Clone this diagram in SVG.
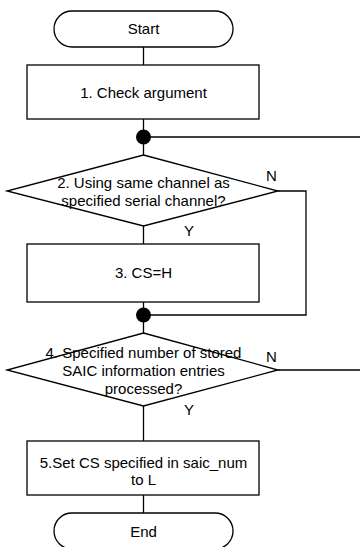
<svg xmlns="http://www.w3.org/2000/svg" width="360" height="547" viewBox="0 0 360 547">
<style>
.s{fill:#fff;stroke:#000;stroke-width:1.3}
.c{fill:none;stroke:#000;stroke-width:1.3}
text{font-family:"Liberation Sans",Arial,sans-serif;font-size:15px;fill:#000;text-anchor:middle}
.l{text-anchor:start}
</style>
<rect width="360" height="547" fill="#fff"/>
<g id="connectors">
<path class="c" d="M143.5 47V65M143.5 119V155M143.5 137H360M143.5 226V244M143.5 302V333M278 191H306V315H143.5M143.5 406V441M278 370H360M143.5 495V513"/>
<circle cx="143.5" cy="137" r="7.5" fill="#000"/>
<circle cx="143.5" cy="315" r="7.5" fill="#000"/>
<text class="l" x="266" y="181">N</text>
<text class="l" x="184" y="236">Y</text>
<text class="l" x="266" y="362">N</text>
<text class="l" x="184" y="415">Y</text>
</g>
<g id="start">
<rect class="s" x="54" y="11" width="179" height="36" rx="18"/>
<text x="143.5" y="34">Start</text>
</g>
<g id="n1">
<rect class="s" x="27" y="65" width="232" height="54"/>
<text x="143.5" y="98">1. Check argument</text>
</g>
<g id="n2">
<polygon class="s" points="143.5,155 278,191 143.5,226 7,191"/>
<text x="143.5" y="188">2. Using same channel as</text>
<text x="143.5" y="205.5">specified serial channel?</text>
</g>
<g id="n3">
<rect class="s" x="27" y="244" width="232" height="58"/>
<text x="143.5" y="278">3. CS=H</text>
</g>
<g id="n4">
<polygon class="s" points="143.5,333 278,370 143.5,406 7,370"/>
<text x="143.5" y="357.5">4. Specified number of stored</text>
<text x="143.5" y="375.5">SAIC information entries</text>
<text x="143.5" y="393.5">processed?</text>
</g>
<g id="n5">
<rect class="s" x="27" y="441" width="232" height="54"/>
<text x="143.5" y="468">5.Set CS specified in saic_num</text>
<text x="143.5" y="485">to L</text>
</g>
<g id="end">
<rect class="s" x="54" y="513" width="179" height="36" rx="18"/>
<text x="143.5" y="537">End</text>
</g>
</svg>
